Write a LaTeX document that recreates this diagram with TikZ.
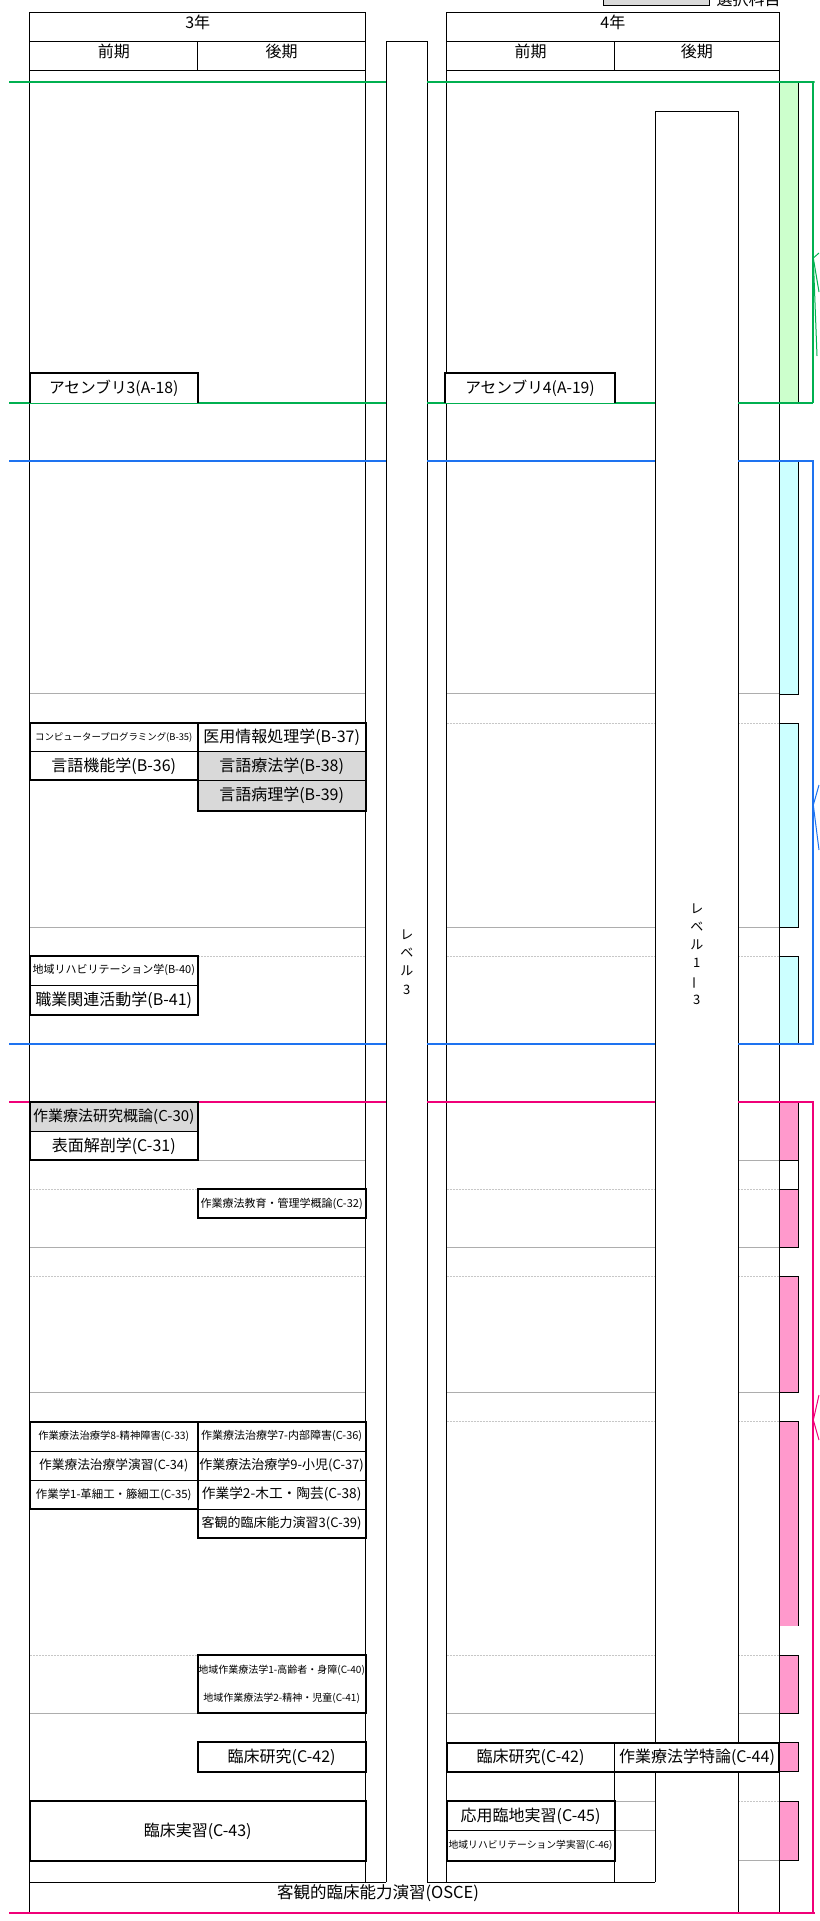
\documentclass[tikz,border=0pt]{standalone}
\usepackage{fontspec}
\setmainfont{Noto Sans CJK JP}
\usepackage{graphicx}
\usetikzlibrary{positioning}

\definecolor{lineG}{RGB}{0,176,80}
\definecolor{lineB}{RGB}{30,115,240}
\definecolor{lineM}{RGB}{240,0,120}
\definecolor{fillG}{RGB}{204,255,204}
\definecolor{fillB}{RGB}{204,255,255}
\definecolor{fillM}{RGB}{255,153,204}
\definecolor{fillS}{RGB}{217,217,217}

\begin{document}
\begin{tikzpicture}[
    x=1pt, y=-1pt,
    % Frames and cells
    frame/.style={draw=black, line width=1pt},
    grp/.style  ={draw=black, line width=2pt},
    cell/.style ={draw=black, line width=0.8pt, inner sep=0pt, outer sep=0pt, align=center,
                  minimum width=167.9pt, minimum height=29pt, fill=white},
    sel/.style  ={cell, fill=fillS},
    sepA/.style ={draw=black!32, line width=1pt},
    sepB/.style ={draw=black!22, line width=0.6pt, dash pattern=on 2pt off 1pt},
    % Fonts
    hd/.style ={font=\fontsize{16}{18}\selectfont},
    asm/.style={font=\fontsize{15.7}{18}\selectfont},
    lg/.style ={font=\fontsize{16}{18}\selectfont},
    ml/.style ={font=\fontsize{15}{17}\selectfont},
    md/.style ={font=\fontsize{13}{15}\selectfont},
    sm/.style ={font=\fontsize{11}{13}\selectfont},
    xs/.style ={font=\fontsize{10}{12}\selectfont},
    xxs/.style={font=\fontsize{9.4}{11}\selectfont},
    lv/.style ={align=center, font=\fontsize{13}{18.3}\selectfont},
    % Coloured range lines
    wireG/.style={draw=lineG, line width=2pt},
    wireB/.style={draw=lineB, line width=2pt},
    wireM/.style={draw=lineM, line width=2pt}
]

% Column x-positions
\def\xA{29.8}   % 3rd year left
\def\xB{197.7}  % 3rd year middle
\def\xC{365.6}  % 3rd year right
\def\xD{386.4}  % level 3 left
\def\xE{427.1}  % level 3 right
\def\xF{446.5}  % 4th year left
\def\xG{614.6}  % 4th year middle
\def\xH{655.3}  % level 1-3 left
\def\xI{738.3}  % level 1-3 right
\def\xJ{779.3}  % 4th year right
\def\xK{798.3}  % colour band right
\def\xL{813.3}  % brackets

\fill[white] (0,0) rectangle (819,1921);
\useasboundingbox (0,0) rectangle (819,1921);

% Legend (cut at the top)
\node[draw, line width=1pt, fill=fillS, minimum width=106pt, minimum height=26pt, anchor=south west] (lgbox) at (603,6) {};
\node[hd, anchor=west] (lgtxt) at (713,-1) {選択科目};

% ------------------------- Row separators ----------------------------
\foreach \yy in {693.4, 927, 1247.3, 1392.8, 1713.3} {
  \draw[sepA] (\xA,\yy) -- (\xC,\yy);
  \draw[sepA] (\xF,\yy) -- (\xH,\yy);
  \draw[sepA] (\xI,\yy) -- (\xJ,\yy);
}
\foreach \yy in {723.4, 956.2, 1189.3, 1276.7, 1421.7, 1655} {
  \draw[sepB] (\xA,\yy) -- (\xC,\yy);
  \draw[sepB] (\xF,\yy) -- (\xH,\yy);
  \draw[sepB] (\xI,\yy) -- (\xJ,\yy);
}
\draw[sepA] (\xA,1160) -- (\xC,1160);
\draw[sepA] (\xI,1160) -- (\xJ,1160);
\draw[sepA] (\xG,1801) -- (\xH,1801);
\draw[sepA] (\xG,1830.7) -- (\xH,1830.7);
\draw[sepB] (\xI,1801.5) -- (\xJ,1801.5);
\draw[sepA] (\xI,1860.4) -- (\xJ,1860.4);

% ---------------------------- Headers ---------------------------------
\draw[frame] (\xA,12.7) rectangle (\xC,70.7);
\draw[frame] (\xA,41.3) -- (\xC,41.3);
\draw[frame] (\xB,41.3) -- (\xB,70.7);
\node[hd] (y3)  at ({(\xA+\xC)/2},22) {3年};
\node[hd] (y3a) at ({(\xA+\xB)/2},51) {前期};
\node[hd] (y3b) at ({(\xB+\xC)/2},51) {後期};

\draw[frame] (\xF,12.7) rectangle (\xJ,70.7);
\draw[frame] (\xF,41.3) -- (\xJ,41.3);
\draw[frame] (\xG,41.3) -- (\xG,70.7);
\node[hd] (y4)  at ({(\xF+\xJ)/2},22) {4年};
\node[hd] (y4a) at ({(\xF+\xG)/2},51) {前期};
\node[hd] (y4b) at ({(\xG+\xJ)/2},51) {後期};

% ---------------------------- Table body ------------------------------
\draw[frame] (\xA,70.7) -- (\xA,1912.7);
\draw[frame] (\xC,70.7) -- (\xC,1882);
\draw[frame] (\xF,70.7) -- (\xF,1882);
\draw[frame] (\xJ,70.7) -- (\xJ,1912.7);
\draw[frame] (\xG,1772) -- (\xG,1882);
\draw[frame] (\xA,1882) -- (\xD,1882);
\draw[frame] (\xE,1882) -- (\xH,1882);

% Level columns
\draw[frame] (\xD,1882) -- (\xD,41.3) -- (\xE,41.3) -- (\xE,1882);
\draw[frame] (\xH,1882) -- (\xH,111.3) -- (\xI,111.3) -- (\xI,1912.7);
\node[lv] (lv3)  at ({(\xD+\xE)/2},962) {レ\\ベ\\ル\\3};
\node[lv] (lv13) at ({(\xH+\xI)/2},954) {レ\\ベ\\ル\\1\\\rotatebox[origin=c]{90}{ー}\\3};

% --------------------------- Colour bands -----------------------------
\draw[frame, fill=fillG] (\xJ,82) rectangle (\xK,402.7);
\foreach \ya/\yb in {460.6/694.2, 723.4/927, 956.2/1043.6}
  \draw[frame, fill=fillB] (\xJ,\ya) rectangle (\xK,\yb);
\foreach \ya/\yb in {1102/1160, 1189.3/1247.3, 1276.7/1392.8, 1655/1713.3, 1742.5/1771, 1801.5/1860.4}
  \draw[frame, fill=fillM] (\xJ,\ya) rectangle (\xK,\yb);
\draw[frame] (\xJ,1160) rectangle (\xK,1189.3);
\fill[fillM] (\xJ,1421.7) rectangle (\xK,1626.3);
\draw[frame] (\xJ,1626.3) |- (\xK,1421.7) -- (\xK,1626.3);

% --------------------------- Range lines ------------------------------
\draw[wireG] (9,82) -- (\xD,82);
\draw[wireG] (\xE,82) -- (814.6,82) -- (\xL,82) -- (\xL,402.7);
\draw[wireG] (9,402.7) -- (\xD,402.7);
\draw[wireG] (\xE,402.7) -- (\xH,402.7);
\draw[wireG] (\xI,402.7) -- (\xL,402.7);
\draw[wireG, line width=1pt] (819,253) -- (\xL,258) -- (819,292);
\draw[wireG, line width=1pt] (\xL,258) -- (817,356);

\draw[wireB] (9,460.6) -- (\xD,460.6);
\draw[wireB] (\xE,460.6) -- (\xH,460.6);
\draw[wireB] (\xI,460.6) -- (\xL,460.6) -- (\xL,1043.6) -- (\xI,1043.6);
\draw[wireB] (9,1043.6) -- (\xD,1043.6);
\draw[wireB] (\xE,1043.6) -- (\xH,1043.6);
\draw[wireB, line width=1pt] (819,785) -- (\xL,805) -- (819,850);

\draw[wireM] (9,1102) -- (\xD,1102);
\draw[wireM] (\xE,1102) -- (\xH,1102);
\draw[wireM] (\xI,1102) -- (\xL,1102) -- (\xL,1912.7);
\draw[wireM] (9,1912.7) -- (814.6,1912.7);
\draw[wireM, line width=1pt] (819,1395) -- (\xL,1420) -- (819,1440);

% ---------------------------- Group A ---------------------------------
\node[cell, draw=none, asm, minimum height=29.4pt, anchor=north west] (a18) at (\xA,373.3) {アセンブリ3(A-18)};
\draw[grp] (a18.south west) -- (a18.north west) -- (a18.north east) -- (a18.south east);
\node[cell, draw=none, asm, minimum width=169.2pt, minimum height=29.4pt, anchor=north west] (a19) at (445.4,373.3) {\raisebox{-3pt}{アセンブリ4(A-19)}};
\draw[grp] (a19.south west) -- (a19.north west) -- (a19.north east) -- (a19.south east);

% ---------------------------- Group B ---------------------------------
\node[cell, xxs, anchor=north west] (b35) at (\xA,722.7) {コンピュータープログラミング(B-35)};
\node[cell, lg, minimum height=28.3pt, below=0pt of b35] (b36) {言語機能学(B-36)};
\node[cell, lg, anchor=north west] (b37) at (\xB,722.7) {医用情報処理学(B-37)};
\node[sel, lg, minimum height=28.3pt, below=0pt of b37] (b38) {言語療法学(B-38)};
\node[sel, lg, minimum height=31pt, below=0pt of b38] (b39) {言語病理学(B-39)};
\draw[grp] (b35.north west) rectangle (b36.south east);
\draw[grp] (b37.north west) rectangle (b39.south east);

\node[cell, sm, minimum height=29.3pt, anchor=north west] (b40) at (\xA,955.7) {地域リハビリテーション学(B-40)};
\node[cell, lg, minimum height=30pt, below=0pt of b40] (b41) {職業関連活動学(B-41)};
\draw[grp] (b40.north west) rectangle (b41.south east);

% ---------------------------- Group C ---------------------------------
\node[sel, ml, minimum height=29.7pt, anchor=north west] (c30) at (\xA,1102) {作業療法研究概論(C-30)};
\node[cell, lg, minimum height=28.3pt, below=0pt of c30] (c31) {表面解剖学(C-31)};
\draw[grp] (c30.north west) rectangle (c31.south east);

\node[cell, sm, anchor=north west] (c32) at (\xB,1189.3) {作業療法教育・管理学概論(C-32)};
\draw[grp] (c32.north west) rectangle (c32.south east);

\node[cell, font=\fontsize{10.3}{12}\selectfont, minimum height=29.3pt, anchor=north west] (c33) at (\xA,1421.7) {作業療法治療学8-精神障害(C-33)};
\node[cell, font=\fontsize{12.7}{14}\selectfont, below=0pt of c33] (c34) {作業療法治療学演習(C-34)};
\node[cell, font=\fontsize{11.4}{13}\selectfont, below=0pt of c34] (c35) {作業学1-革細工・籐細工(C-35)};
\node[cell, sm, minimum height=29.3pt, anchor=north west] (c36) at (\xB,1421.7) {作業療法治療学7-内部障害(C-36)};
\node[cell, md, below=0pt of c36] (c37) {作業療法治療学9-小児(C-37)};
\node[cell, font=\fontsize{13.7}{15}\selectfont, below=0pt of c37] (c38) {作業学2-木工・陶芸(C-38)};
\node[cell, md, minimum height=29.3pt, below=0pt of c38] (c39) {客観的臨床能力演習3(C-39)};
\draw[grp] (c33.north west) rectangle (c35.south east);
\draw[grp] (c36.north west) rectangle (c39.south east);

\node[cell, font=\fontsize{10}{28}\selectfont, minimum height=58.3pt, anchor=north west] (c40) at (\xB,1655)
  {地域作業療法学1-高齢者・身障(C-40)\\地域作業療法学2-精神・児童(C-41)};
\draw[grp] (c40.north west) rectangle (c40.south east);

\node[cell, lg, minimum height=30pt, anchor=north west] (c42) at (\xB,1742.3) {臨床研究(C-42)};
\draw[grp] (c42.north west) rectangle (c42.south east);
\node[cell, lg, minimum width=335.8pt, minimum height=59.7pt, anchor=north west] (c43) at (\xA,1801) {臨床実習(C-43)};
\draw[grp] (c43.north west) rectangle (c43.south east);

\node[cell, lg, minimum width=168.1pt, minimum height=29.5pt, anchor=north west] (c42b) at (\xF,1742.5) {臨床研究(C-42)};
\node[cell, lg, minimum width=164.7pt, minimum height=29.5pt, right=0pt of c42b] (c44) {作業療法学特論(C-44)};
\draw[grp] (c42b.north west) rectangle (c44.south east);

\node[cell, lg, minimum width=168.1pt, minimum height=29.7pt, anchor=north west] (c45) at (\xF,1801) {応用臨地実習(C-45)};
\node[cell, font=\fontsize{9.8}{12}\selectfont, minimum width=168.1pt, minimum height=30pt, below=0pt of c45] (c46) {地域リハビリテーション学実習(C-46)};
\draw[grp] (c45.north west) rectangle (c46.south east);

\node[font=\fontsize{16.5}{18}\selectfont] (osce) at (378,1893) {客観的臨床能力演習(OSCE)};

\end{tikzpicture}
\end{document}
